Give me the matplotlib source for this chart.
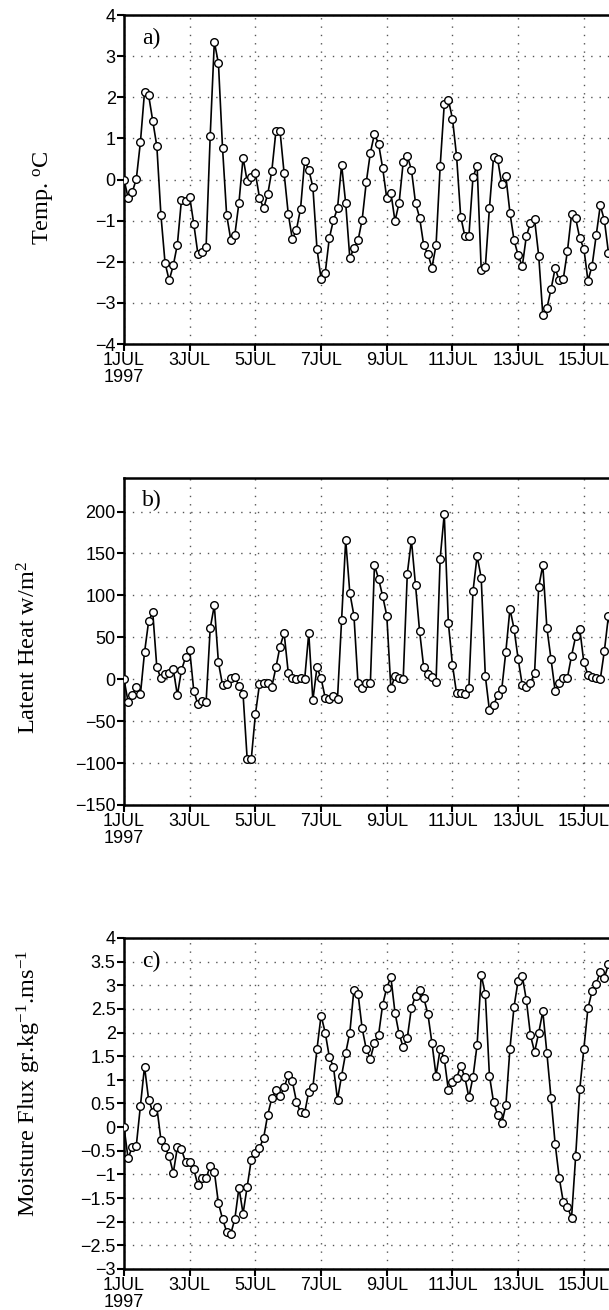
import matplotlib
matplotlib.use("Agg")
import matplotlib.pyplot as plt
import numpy as np

plt.rcParams['mathtext.fontset'] = 'custom'
plt.rcParams['mathtext.rm'] = 'Liberation Serif'
plt.rcParams['mathtext.it'] = 'Liberation Serif:italic'

# 3-hourly values starting 1 JUL 1997 00h
temp = [0.0, -0.44, -0.31, 0.01, 0.91, 2.13, 2.05, 1.43, 0.81, -0.87, -2.03, -2.45, -2.09, -1.58, -0.49, -0.52,
        -0.42, -1.08, -1.81, -1.76, -1.63, 1.07, 3.35, 2.83, 0.77, -0.86, -1.46, -1.34, -0.56, 0.53, -0.04, 0.07,
        0.15, -0.44, -0.70, -0.36, 0.21, 1.17, 1.18, 0.15, -0.83, -1.45, -1.22, -0.71, 0.46, 0.24, -0.18, -1.68,
        -2.42, -2.28, -1.43, -0.99, -0.70, 0.36, -0.58, -1.91, -1.67, -1.48, -0.98, -0.07, 0.65, 1.11, 0.87, 0.28,
        -0.46, -0.32, -1.01, -0.57, 0.42, 0.57, 0.24, -0.57, -0.93, -1.60, -1.81, -2.14, -1.60, 0.32, 1.83, 1.94,
        1.48, 0.57, -0.90, -1.37, -1.37, 0.06, 0.34, -2.19, -2.13, -0.70, 0.55, 0.49, -0.12, 0.08, -0.81, -1.48,
        -1.84, -2.11, -1.37, -1.06, -0.97, -1.85, -3.29, -3.13, -2.67, -2.16, -2.45, -2.41, -1.74, -0.85, -0.94, -1.43,
        -1.68, -2.46, -2.10, -1.36, -0.63, -0.99, -1.79]

latent = [0, -27, -19, -9, -18, 32, 69, 80, 14, 1, 6, 7, 12, -19, 11, 26,
          35, -14, -30, -26, -27, 61, 88, 20, -7, -6, 2, 3, -8, -18, -95, -95,
          -42, -6, -5, -5, -9, 14, 39, 55, 8, 2, 0, 1, 0, 55, -25, 14,
          1, -22, -24, -20, -23, 71, 166, 103, 76, -5, -10, -5, -5, 136, 120, 99,
          76, -11, 4, 2, 0, 126, 166, 112, 57, 14, 6, 3, -3, 144, 197, 67,
          17, -17, -16, -18, -10, 105, 147, 121, 4, -37, -31, -19, -12, 33, 84, 60,
          24, -7, -9, -5, 8, 110, 136, 61, 24, -14, -4, 2, 2, 28, 51, 60,
          20, 5, 3, 2, 0, 34, 76, 45]

moist = [0.0, -0.66, -0.42, -0.39, 0.45, 1.28, 0.58, 0.32, 0.42, -0.27, -0.43, -0.62, -0.97, -0.43, -0.47, -0.74,
         -0.74, -0.89, -1.23, -1.07, -1.08, -0.82, -0.94, -1.61, -1.94, -2.21, -2.26, -1.94, -1.28, -1.83, -1.26, -0.69,
         -0.54, -0.44, -0.23, 0.26, 0.61, 0.78, 0.65, 0.84, 1.10, 0.97, 0.54, 0.31, 0.30, 0.75, 0.84, 1.65,
         2.36, 2.00, 1.49, 1.28, 0.58, 1.09, 1.57, 2.00, 2.91, 2.82, 2.09, 1.65, 1.45, 1.78, 1.95, 2.59,
         2.95, 3.17, 2.42, 1.97, 1.69, 1.89, 2.52, 2.78, 2.91, 2.73, 2.40, 1.78, 1.09, 1.65, 1.45, 0.78,
         0.96, 1.03, 1.30, 1.06, 0.63, 1.06, 1.74, 3.22, 2.81, 1.09, 0.53, 0.26, 0.08, 0.46, 1.66, 2.55,
         3.10, 3.20, 2.68, 1.94, 1.59, 1.99, 2.45, 1.56, 0.62, -0.35, -1.07, -1.59, -1.68, -1.92, -0.62, 0.80,
         1.66, 2.52, 2.87, 3.03, 3.29, 3.16, 3.44, 3.50]

tick_days = [0, 2, 4, 6, 8, 10, 12, 14]
tick_labels = ["1JUL\n1997", "3JUL", "5JUL", "7JUL", "9JUL", "11JUL", "13JUL", "15JUL"]

panels = [
    (temp, "a)", "Temp. $^{\\mathrm{o}}$C", (-4, 4), np.arange(-4, 4.1, 1), [0.2036, 0.7374, 0.863, 0.2511]),
    (latent, "b)", "Latent Heat w/m$^{2}$", (-150, 240), np.arange(-150, 201, 50), [0.2036, 0.3855, 0.863, 0.2496]),
    (moist, "c)", "Moisture Flux gr.kg$^{-1}$.ms$^{-1}$", (-3, 4), np.arange(-3, 4.01, 0.5), [0.2036, 0.0313, 0.863, 0.2527]),
]
ylab_pos = [(0.071, 0.849), (0.048, 0.506), (0.047, 0.173)]

tickfont = ['Liberation Sans Narrow', 'Liberation Sans', 'DejaVu Sans']
serif = ['Liberation Serif', 'DejaVu Serif']

fig = plt.figure(figsize=(6.09, 13.10), dpi=100)

for i, (vals, tag, ylabel, ylim, yticks, pos) in enumerate(panels):
    ax = fig.add_axes(pos)
    days = np.arange(len(vals)) / 8.0
    ax.plot(days, vals, color='black', linewidth=1.2, marker='o', markersize=5.5,
            markerfacecolor='white', markeredgecolor='black', markeredgewidth=1.0, zorder=3)
    ax.set_xlim(0, 16)
    ax.set_ylim(*ylim)
    ax.set_xticks(tick_days)
    ax.set_xticklabels(tick_labels, fontsize=13, family=tickfont, linespacing=0.95)
    ax.set_yticks(yticks)
    ax.set_yticklabels([("%g" % v).replace("-", "\u2212") for v in yticks], fontsize=13, family=tickfont)
    ax.tick_params(direction='out', length=5, width=1.5, pad=1)
    ax.grid(True, linestyle=(0, (1, 5)), color='#555555', linewidth=1.0)
    ax.spines['right'].set_visible(False)
    for s in ['left', 'top', 'bottom']:
        ax.spines[s].set_linewidth(1.8)
    ax.text(0.035, 0.93, tag, transform=ax.transAxes, fontsize=17, family=serif, va='center', ha='left')
    fig.text(ylab_pos[i][0], ylab_pos[i][1], ylabel, rotation=90, fontsize=17.5, family=serif,
             va='center', ha='center')

fig.savefig("out.png", dpi=100)
